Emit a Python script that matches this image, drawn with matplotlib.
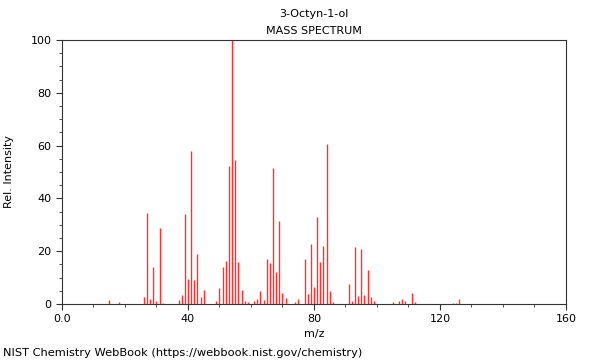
import numpy as np
import matplotlib
matplotlib.use('Agg')
import matplotlib.pyplot as plt
from matplotlib.ticker import MultipleLocator, FixedLocator

# peaks
mz = [15, 18, 26, 27, 28, 29, 30, 31, 32, 37, 38, 39, 40, 41, 42, 43, 44, 45,
      49, 50, 51, 52, 53, 54, 55, 56, 57, 58, 59, 61, 62, 63, 64, 65, 66, 67,
      68, 69, 70, 71, 74, 75, 77, 78, 79, 80, 81, 82, 83, 84, 85, 86,
      91, 92, 93, 94, 95, 96, 97, 98, 99, 105, 107, 108, 109, 111, 112,
      124, 125, 126]
intensity = [1.5, 0.8, 2.8, 34.6, 2.0, 13.9, 1.0, 28.7, 0.5, 1.5, 3.3, 34.0, 9.4, 58.0, 9.1, 18.9, 2.8, 5.3,
             1.0, 6.2, 14.1, 16.4, 52.4, 100.0, 54.5, 15.8, 5.2, 1.0, 0.8, 1.0, 2.0, 4.8, 1.5, 17.2, 15.7, 51.5,
             12.2, 31.4, 4.0, 2.2, 0.8, 2.0, 16.9, 3.7, 22.7, 6.3, 32.8, 16.0, 21.8, 60.7, 4.8, 0.8,
             7.6, 1.3, 21.7, 2.9, 20.8, 3.5, 12.9, 2.5, 1.0, 0.6, 1.3, 1.7, 1.0, 4.0, 0.6,
             0.4, 0.5, 2.0]

fig = plt.figure(figsize=(6, 3.6), dpi=100)
ax = fig.add_axes([0.1033, 0.1556, 0.84, 0.7333])

ax.vlines(mz, 0, intensity, colors='#ff3030', linewidth=1.0)

ax.set_xlim(0, 160)
ax.set_ylim(0, 100)
ax.xaxis.set_major_locator(FixedLocator([0, 40, 80, 120, 160]))
ax.set_xticklabels(['0.0', '40', '80', '120', '160'])
ax.xaxis.set_minor_locator(MultipleLocator(10))
ax.yaxis.set_major_locator(MultipleLocator(20))
ax.yaxis.set_minor_locator(MultipleLocator(5))
ax.tick_params(which='both', direction='out', labelsize=8, color='#333333')
ax.tick_params(which='major', length=4)
ax.tick_params(which='minor', length=2)
for s in ax.spines.values():
    s.set_color('#333333')

ax.set_xlabel('m/z', fontsize=8, labelpad=3)
ax.set_ylabel('Rel. Intensity', fontsize=8, labelpad=12)

cx = 0.1033 + 0.84 / 2
fig.text(cx, 0.96, '3-Octyn-1-ol', ha='center', va='center', fontsize=8)
fig.text(cx, 0.915, 'MASS SPECTRUM', ha='center', va='center', fontsize=8)
fig.text(0.005, 0.02, 'NIST Chemistry WebBook (https://webbook.nist.gov/chemistry)',
         ha='left', va='center', fontsize=8.2)

fig.savefig('out.png', dpi=100)
